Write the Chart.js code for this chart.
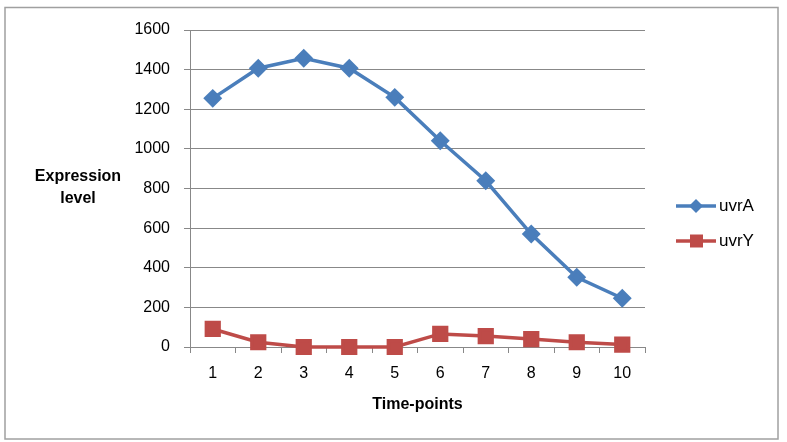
<!DOCTYPE html>
<html>
<head>
<meta charset="utf-8">
<script src="https://cdn.jsdelivr.net/npm/chart.js@4"></script>
<style>
  html, body { margin: 0; padding: 0; background: #fff; }
  #wrap { width: 787px; height: 442px; }
</style>
</head>
<body>
<div id="wrap"><canvas id="chart" width="787" height="442"></canvas></div>
<script>
const timePoints = ["1", "2", "3", "4", "5", "6", "7", "8", "9", "10"];
const uvrA = [1255, 1407, 1457, 1407, 1260, 1041, 839, 570, 352, 246];
const uvrY = [91, 24, 0, 0, 0, 66, 55, 40, 24, 12];
const yTitleLines = ["Expression", "level"];
const xTitle = "Time-points";

const blue = "#4A7EBB";
const red = "#BE4B48";
const gridGrey = "#888888";
const fontFamily = "'Liberation Sans', Arial, sans-serif";

// outer frame, horizontal y-title and the legend on the right
const decorations = {
  id: "decorations",
  afterDraw(chart) {
    const ctx = chart.ctx;
    ctx.save();
    ctx.strokeStyle = "#a0a0a0";
    ctx.lineWidth = 1.5;
    ctx.strokeRect(5, 7.5, 773, 431.5);

    ctx.fillStyle = "#000";
    ctx.font = "bold 16px " + fontFamily;
    ctx.textAlign = "center";
    ctx.textBaseline = "middle";
    ctx.fillText(yTitleLines[0], 78, 177);
    ctx.fillText(yTitleLines[1], 78, 199);

    chart.data.datasets.forEach((ds, i) => {
      const y = 206 + i * 35;
      ctx.strokeStyle = ds.borderColor;
      ctx.lineWidth = ds.borderWidth;
      ctx.beginPath();
      ctx.moveTo(676, y);
      ctx.lineTo(716, y);
      ctx.stroke();
      ctx.fillStyle = ds.backgroundColor;
      ctx.beginPath();
      if (ds.pointStyle === "rectRot") {
        ctx.moveTo(696, y - 7);
        ctx.lineTo(703, y);
        ctx.lineTo(696, y + 7);
        ctx.lineTo(689, y);
      } else {
        ctx.rect(690, y - 6.5, 13, 13);
      }
      ctx.closePath();
      ctx.fill();
      ctx.fillStyle = "#000";
      ctx.font = "17px " + fontFamily;
      ctx.textAlign = "left";
      ctx.fillText(ds.label, 719, y);
    });
    ctx.restore();
  }
};

new Chart(document.getElementById("chart"), {
  type: "line",
  data: {
    labels: timePoints,
    datasets: [
      {
        label: "uvrA",
        data: uvrA,
        borderColor: blue,
        backgroundColor: blue,
        borderWidth: 3.5,
        pointStyle: "rectRot",
        pointRadius: 7,
        pointHoverRadius: 7,
        tension: 0,
        clip: false
      },
      {
        label: "uvrY",
        data: uvrY,
        borderColor: red,
        backgroundColor: red,
        borderWidth: 3.5,
        pointStyle: "rect",
        pointRadius: 9,
        pointHoverRadius: 9,
        tension: 0,
        clip: false
      }
    ]
  },
  options: {
    responsive: false,
    animation: false,
    events: [],
    layout: { padding: { left: 5, right: 142, top: 30, bottom: 0 } },
    plugins: {
      legend: { display: false },
      tooltip: { enabled: false }
    },
    scales: {
      x: {
        offset: true,
        grid: {
          offset: true,
          drawOnChartArea: false,
          drawTicks: true,
          tickLength: 6,
          color: gridGrey
        },
        border: { color: gridGrey, width: 1 },
        ticks: { color: "#000", padding: 11, font: { family: fontFamily, size: 16 } },
        title: {
          display: true,
          text: xTitle,
          color: "#000",
          padding: { top: 0, bottom: 28 },
          font: { family: fontFamily, size: 16, weight: "bold" }
        },
        afterFit(scale) { scale.height = 95; }
      },
      y: {
        min: 0,
        max: 1600,
        ticks: {
          stepSize: 200,
          color: "#000",
          padding: 14,
          font: { family: fontFamily, size: 16 },
          callback: (value) => String(value)
        },
        grid: { color: gridGrey, tickLength: 6 },
        border: { color: gridGrey, width: 1 },
        afterFit(scale) { scale.width = 185; }
      }
    }
  },
  plugins: [decorations]
});
</script>
</body>
</html>
